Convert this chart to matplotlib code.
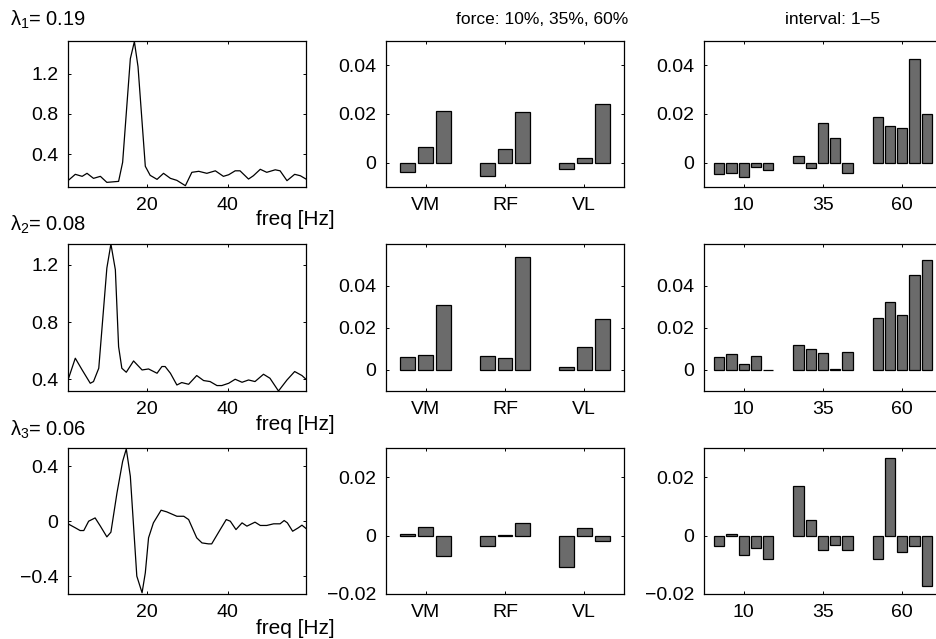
import matplotlib.pyplot as plt

plt.rcParams['font.family'] = ['Liberation Sans', 'DejaVu Sans']
plt.rcParams['font.size'] = 14
plt.rcParams['mathtext.fontset'] = 'custom'
plt.rcParams['mathtext.rm'] = 'Liberation Sans'
plt.rcParams['mathtext.it'] = 'Liberation Sans'

# spectra (freq in Hz, amplitude)
freq1 = [0.5, 2.3, 4, 5.2, 6.8, 8.5, 10.1, 13, 14, 15.9, 16.9, 17.8, 19.6, 20.8, 22.5,
         24.1, 25.8, 27.4, 29.5, 31.1, 32.8, 34.8, 36.9, 38.9, 40.2, 41.8, 43, 45.1,
         46.3, 48, 49.6, 51.7, 52.9, 54.6, 56.5, 57.9, 59.3]
spec1 = [0.137, 0.20, 0.18, 0.21, 0.16, 0.18, 0.12, 0.13, 0.32, 1.35, 1.52, 1.27, 0.28,
         0.19, 0.15, 0.21, 0.16, 0.14, 0.087, 0.22, 0.23, 0.21, 0.235, 0.18, 0.196, 0.235,
         0.235, 0.153, 0.186, 0.25, 0.22, 0.245, 0.235, 0.137, 0.20, 0.186, 0.153]

freq2 = [0.5, 2.3, 4, 6, 6.8, 8.1, 10.1, 11.1, 12.2, 13, 13.8, 14.9, 16.7, 18.8, 20.4,
         22.5, 23.7, 24.5, 25.8, 27.4, 28.6, 30.3, 32.3, 34, 35.6, 37.3, 38.5, 40.2, 41.8,
         43.5, 45.1, 46.7, 48.8, 50.4, 52.5, 54.6, 56.5, 58.3, 59.3]
spec2 = [0.395, 0.547, 0.465, 0.372, 0.384, 0.477, 1.177, 1.345, 1.165, 0.628, 0.477,
         0.449, 0.528, 0.465, 0.472, 0.442, 0.489, 0.489, 0.442, 0.36, 0.377, 0.365, 0.426,
         0.391, 0.384, 0.356, 0.356, 0.372, 0.40, 0.379, 0.395, 0.384, 0.435, 0.407, 0.318,
         0.395, 0.454, 0.426, 0.40]

freq3 = [0.5, 2.3, 3.5, 4.4, 5.6, 7.2, 8.5, 10.1, 11.1, 12.6, 14, 14.9, 15.9, 17.5, 18.8,
         19.6, 20.4, 21.6, 23.5, 24.9, 27.4, 29.1, 30.3, 32.3, 33.6, 35.2, 36, 38.1, 39.6,
         40.6, 42, 43.5, 44.7, 46.7, 48, 49.6, 51.3, 52.9, 53.9, 54.7, 56, 57.4, 58.3, 59.3]
spec3 = [-0.019, -0.048, -0.068, -0.068, 0.0, 0.024, -0.036, -0.114, -0.08, 0.206, 0.436,
         0.526, 0.327, -0.40, -0.521, -0.376, -0.121, -0.012, 0.08, 0.068, 0.036, 0.036,
         0.012, -0.121, -0.158, -0.165, -0.165, -0.061, 0.012, 0.0, -0.061, -0.012, -0.036,
         -0.007, -0.031, -0.031, -0.019, -0.019, 0.005, -0.012, -0.073, -0.048, -0.029,
         -0.053]

lambdas = ['0.19', '0.08', '0.06']

# muscle loadings: force 10%, 35%, 60% per muscle
muscles = ['VM', 'RF', 'VL']
force1 = [[-0.0037, 0.0064, 0.0212], [-0.0055, 0.0056, 0.0209], [-0.0025, 0.0018, 0.024]]
force2 = [[0.0064, 0.0070, 0.0311], [0.0065, 0.0059, 0.0539], [0.0013, 0.0108, 0.0241]]
force3 = [[0.0007, 0.0029, -0.0071], [-0.0034, 0.0003, 0.0043], [-0.0106, 0.0025, -0.0019]]

# force level loadings: interval 1-5 per force level
levels = ['10', '35', '60']
interval1 = [[-0.0046, -0.0041, -0.0060, -0.0018, -0.0031],
             [0.0026, -0.0022, 0.0161, 0.0102, -0.0042],
             [0.0186, 0.0150, 0.0142, 0.0427, 0.0202]]
interval2 = [[0.0064, 0.0075, 0.0029, 0.0067, 0.0002],
             [0.0121, 0.0099, 0.0080, 0.0006, 0.0084],
             [0.0249, 0.0324, 0.0263, 0.0454, 0.0524]]
interval3 = [[-0.0036, 0.0006, -0.0066, -0.0043, -0.0080],
             [0.0170, 0.0054, -0.0049, -0.0033, -0.0048],
             [-0.0080, 0.0266, -0.0056, -0.0035, -0.0171]]

W, H = 936, 639
fig = plt.figure(figsize=(W / 100, H / 100), dpi=100)

col_x = [68, 386, 704]
rows = [(41, 187), (244, 391), (448, 594)]
axw = 238


def make_ax(col, row):
    top, bot = rows[row]
    ax = fig.add_axes([col_x[col] / W, 1 - bot / H, axw / W, (bot - top) / H])
    ax.tick_params(direction='in', top=True, right=True, length=2.5, width=0.7, pad=7)
    for s in ax.spines.values():
        s.set_linewidth(0.9)
    return ax


def grouped_bars(ax, groups, spacing, width):
    for i, vals in enumerate(groups):
        n = len(vals)
        for j, v in enumerate(vals):
            ax.bar(i + 1 + (j - (n - 1) / 2) * spacing, v, width=width,
                   color='#6b6b6b', edgecolor='black', linewidth=0.9)
    ax.set_xlim(0.5, 3.5)
    ax.set_xticks([1, 2, 3])


spectra = [(freq1, spec1, (0.074, 1.526), [0.4, 0.8, 1.2], ['0.4', '0.8', '1.2']),
           (freq2, spec2, (0.318, 1.345), [0.4, 0.8, 1.2], ['0.4', '0.8', '1.2']),
           (freq3, spec3, (-0.53, 0.533), [-0.4, 0, 0.4], ['\u22120.4', '0', '0.4'])]
forces = [force1, force2, force3]
intervals = [interval1, interval2, interval3]
bar_lims = [((-0.01, 0.05), [0, 0.02, 0.04], ['0', '0.02', '0.04']),
            ((-0.01, 0.06), [0, 0.02, 0.04], ['0', '0.02', '0.04']),
            ((-0.02, 0.03), [-0.02, 0, 0.02], ['\u22120.02', '0', '0.02'])]
freq_label_y = [219, 425, 628]
lambda_y = [20, 225, 430]

for r in range(3):
    f, s, ylim, yt, ytl = spectra[r]
    ax = make_ax(0, r)
    ax.plot(f, s, color='black', linewidth=0.9)
    ax.set_xlim(0.5, 59.3)
    ax.set_ylim(*ylim)
    ax.set_xticks([20, 40])
    ax.set_yticks(yt)
    ax.set_yticklabels(ytl)
    fig.text(256 / W, 1 - freq_label_y[r] / H, 'freq [Hz]', va='center', ha='left',
             fontsize=15)
    fig.text(10 / W, 1 - lambda_y[r] / H, r'$\lambda_%d$= %s' % (r + 1, lambdas[r]),
             va='center', ha='left', fontsize=14.5)

    ylim_b, yt_b, ytl_b = bar_lims[r]
    ax = make_ax(1, r)
    grouped_bars(ax, forces[r], 0.225, 0.186)
    ax.set_xticklabels(muscles)
    ax.set_ylim(*ylim_b)
    ax.set_yticks(yt_b)
    ax.set_yticklabels(ytl_b)

    ax = make_ax(2, r)
    grouped_bars(ax, intervals[r], 0.155, 0.13)
    ax.set_xticklabels(levels)
    ax.set_ylim(*ylim_b)
    ax.set_yticks(yt_b)
    ax.set_yticklabels(ytl_b)

fig.text(542 / W, 1 - 20 / H, 'force: 10%, 35%, 60%', ha='center', va='center', fontsize=12.5)
fig.text(833 / W, 1 - 20 / H, 'interval: 1\u20135', ha='center', va='center', fontsize=12.5)

fig.savefig('out.png', dpi=100)
